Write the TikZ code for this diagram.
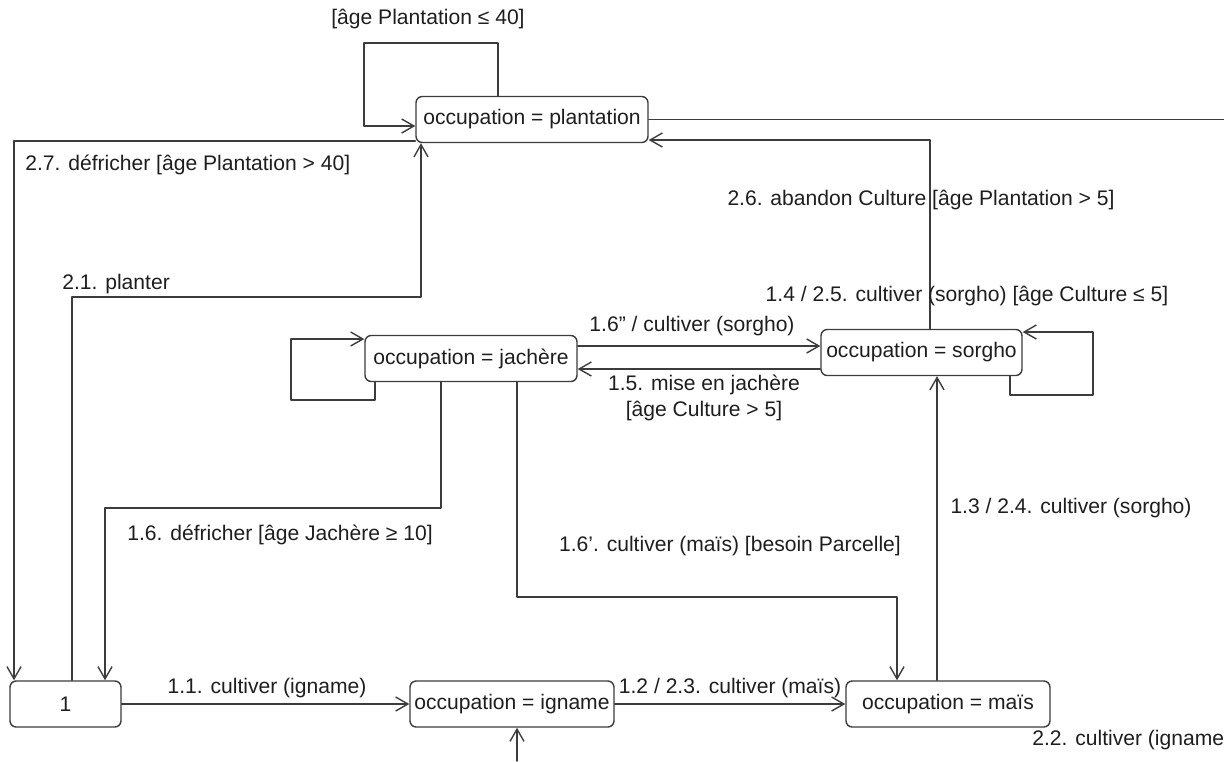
\documentclass[tikz,border=0pt]{standalone}
\usepackage{fontspec}
\setmainfont{Liberation Sans}
\usetikzlibrary{arrows.meta}
\definecolor{trait}{HTML}{3C3C3C}
\definecolor{encre}{HTML}{1E1E1E}
\begin{document}
\begin{tikzpicture}[x=0.02cm,y=-0.02cm,line cap=round,line join=round,
    font=\fontsize{12}{14.5}\selectfont,
    >={Straight Barb[length=7pt,width=8pt]},
    etat/.style={draw=trait,line width=0.8pt,rounded corners=3.5pt,minimum height=0.92cm,inner sep=1pt,text=encre},
    lbl/.style={text=encre,inner sep=0pt},
    fl/.style={draw=trait,line width=0.8pt,->}]
  \useasboundingbox (0,0) rectangle (1224,761);

  \node[etat,minimum width=4.64cm] (plant) at (532,119.5) {occupation = plantation};
  \node[etat,minimum width=4.24cm] (jach) at (471,358.5) {occupation = jachère};
  \node[etat,minimum width=4.02cm] (sorg) at (921.5,352.5) {occupation = sorgho};
  \node[etat,minimum width=2.22cm] (un) at (65.5,704) {1};
  \node[etat,minimum width=4.08cm] (ign) at (512,704) {occupation = igname};
  \node[etat,minimum width=4.08cm] (mais) at (948,704) {occupation = maïs};
  \coordinate (bordD) at (1224,119.5);
  \coordinate (bordB) at (517,761);

  \draw[fl] (plant.north -| 498,0) |- (364,43) |- (plant.west |- 0,126);
  \draw[fl,-] (plant.east) -- (bordD);
  \draw[fl] (sorg.north -| 930,0) |- (plant.east |- 0,140);
  \draw[fl] (plant.west |- 0,141) -| (un.north -| 14,0);
  \draw[fl] (un.north -| 72,0) |- (421,297) -- (plant.south -| 421,0);
  \draw[fl] (jach.south -| 375,0) |- (291,400) |- (jach.west |- 0,339);
  \draw[fl] (jach.east |- 0,346) -- (sorg.west |- 0,346);
  \draw[fl] (sorg.west |- 0,369) -- (jach.east |- 0,369);
  \draw[fl] (sorg.south -| 1010,0) |- (1093,395) |- (sorg.east |- 0,332);
  \draw[fl] (jach.south -| 441,0) |- (105,508) -- (un.north -| 105,0);
  \draw[fl] (jach.south -| 517,0) |- (897,597) -- (mais.north -| 897,0);
  \draw[fl] (mais.north -| 937,0) -- (sorg.south -| 937,0);
  \draw[fl] (un.east) -- (ign.west);
  \draw[fl] (ign.east) -- (mais.west);
  \draw[fl] (bordB) -- (ign.south -| bordB);

  \node[lbl] (lPlant) at (428,19) {[âge Plantation ≤ 40]};
  \node[lbl,anchor=west] (lDefPl) at (25,165) {2.7. défricher [âge Plantation > 40]};
  \node[lbl,anchor=west] (lPlanter) at (62,284) {2.1. planter};
  \node[lbl] (lAband) at (921,200) {2.6. abandon Culture [âge Plantation > 5]};
  \node[lbl] (lSorgBcl) at (967,296) {1.4 / 2.5. cultiver (sorgho) [âge Culture ≤ 5]};
  \node[lbl] (lJachSorg) at (692,326) {1.6” / cultiver (sorgho)};
  \node[lbl,align=center] (lMiseJach) at (704,398) {1.5. mise en jachère\\{[âge Culture > 5]}};
  \node[lbl,anchor=west] (lDefJach) at (127,535) {1.6. défricher [âge Jachère ≥ 10]};
  \node[lbl] (lJachMais) at (730,546) {1.6’. cultiver (maïs) [besoin Parcelle]};
  \node[lbl] (lMaisSorg) at (1071,508) {1.3 / 2.4. cultiver (sorgho)};
  \node[lbl] (lUnIgn) at (267,688) {1.1. cultiver (igname)};
  \node[lbl] (lIgnMais) at (730,688) {1.2 / 2.3. cultiver (maïs)};
  \node[lbl,anchor=west] (lIgnBas) at (1032,740) {2.2. cultiver (igname};
\end{tikzpicture}
\end{document}
